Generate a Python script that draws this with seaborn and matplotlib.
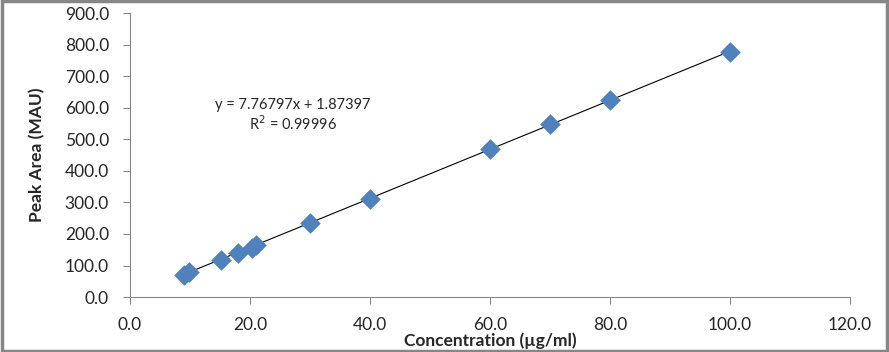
import numpy as np
import pandas as pd
import matplotlib
matplotlib.use("Agg")
import matplotlib.pyplot as plt
import seaborn as sns
from matplotlib.ticker import FormatStrFormatter

# data
conc = [9.0, 9.8, 15.2, 18.0, 20.3, 21.1, 30.0, 40.0, 60.0, 70.0, 80.0, 100.0]
area = [70.0, 78.0, 119.0, 141.0, 157.0, 166.0, 235.0, 311.0, 470.0, 547.0, 623.0, 776.0]
slope = 7.76797
intercept = 1.87397
r2 = 0.99996

df = pd.DataFrame({"conc": conc, "area": area})

sns.set_style("white")
plt.rcParams['font.family'] = ['Lato', 'DejaVu Sans']

fig = plt.figure(figsize=(8.89, 3.52), dpi=100)
ax = fig.add_axes([0.146, 0.156, 0.81, 0.807])

# trendline
xl = np.array([min(conc), max(conc)])
ax.plot(xl, slope * xl + intercept, color="black", lw=0.8, zorder=2)

sns.scatterplot(data=df, x="conc", y="area", marker="D", s=110, color="#4F81BD",
                edgecolor="#4F81BD", linewidth=0, ax=ax, zorder=3)

ax.set_xlim(0, 120)
ax.set_ylim(0, 900)
ax.set_xticks(np.arange(0, 121, 20))
ax.set_yticks(np.arange(0, 901, 100))
ax.xaxis.set_major_formatter(FormatStrFormatter("%.1f"))
ax.yaxis.set_major_formatter(FormatStrFormatter("%.1f"))
ax.tick_params(axis="both", direction="out", length=5, width=0.8, color="#868686",
               labelsize=12.5, left=True, bottom=True)
ax.tick_params(axis="x", pad=9)
ax.tick_params(axis="y", pad=10)
for side in ["top", "right"]:
    ax.spines[side].set_visible(False)
for side in ["left", "bottom"]:
    ax.spines[side].set_color("#868686")
    ax.spines[side].set_linewidth(0.8)

ax.set_xlabel("Concentration (µg/ml)", fontsize=12.5, fontweight="bold", labelpad=0)
ax.set_ylabel("Peak Area (MAU)", fontsize=12.5, fontweight="bold", labelpad=14)

ax.text(27.2, 608, f"y = {slope}x + {intercept}", ha="center", va="center", fontsize=10.5)
ax.text(27.2, 548, f"R$^2$ = {r2}", ha="center", va="center", fontsize=10.5)

# outer border
fig.patches.append(plt.Rectangle((0.002, 0.003), 0.996, 0.994, transform=fig.transFigure,
                                 fill=False, edgecolor="#868686", lw=2.5))

fig.savefig("out.png", dpi=100)
